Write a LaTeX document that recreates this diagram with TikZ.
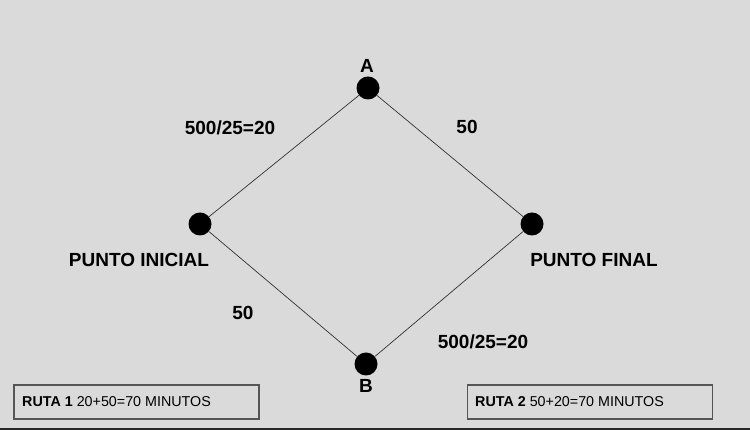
\documentclass[tikz,border=0pt]{standalone}
\usepackage{fontspec}
\setmainfont{Liberation Sans}
\definecolor{bg}{HTML}{DADADA}
\definecolor{boxline}{HTML}{555555}
\begin{document}
\begin{tikzpicture}[x=1pt,y=1pt,
  dot/.style={circle,fill=black,minimum size=23pt,inner sep=0pt},
  lbl/.style={font=\fontsize{19}{22}\selectfont\bfseries,inner sep=0pt},
  edge/.style={draw=black!80,line width=0.7pt},
  rutabox/.style={draw=boxline,line width=1.2pt,minimum width=245pt,minimum height=34pt,inner sep=0pt}]
\fill[bg] (0,0) rectangle (750,430);
\useasboundingbox (0,0) rectangle (750,430);
\fill[black!85] (0,0) rectangle (750,2);
\node[dot] (A) at (368,342) {};
\node[dot] (I) at (200,206) {};
\node[dot] (F) at (532,206) {};
\node[dot] (B) at (366,66) {};
\draw[edge] (I) -- (A);
\draw[edge] (A) -- (F);
\draw[edge] (I) -- (B);
\draw[edge] (B) -- (F);
\node[lbl] (lA) at (367,364) {A};
\node[lbl] (lB) at (366,44) {B};
\node[lbl] (l1) at (230,302) {500/25=20};
\node[lbl] (l2) at (467,303) {50};
\node[lbl] (l3) at (243,117) {50};
\node[lbl] (l4) at (483,88) {500/25=20};
\node[lbl] (lI) at (139,170) {PUNTO INICIAL};
\node[lbl] (lF) at (594,170) {PUNTO FINAL};
\node[rutabox] (r1) at (136.5,28) {};
\node[rutabox] (r2) at (590,28) {};
\node[anchor=west,inner sep=0pt,font=\fontsize{14.3}{17}\selectfont] (t1) at (22,28) {\textbf{RUTA 1} 20+50=70 MINUTOS};
\node[anchor=west,inner sep=0pt,font=\fontsize{14.3}{17}\selectfont] (t2) at (475,28) {\textbf{RUTA 2} 50+20=70 MINUTOS};
\end{tikzpicture}
\end{document}
